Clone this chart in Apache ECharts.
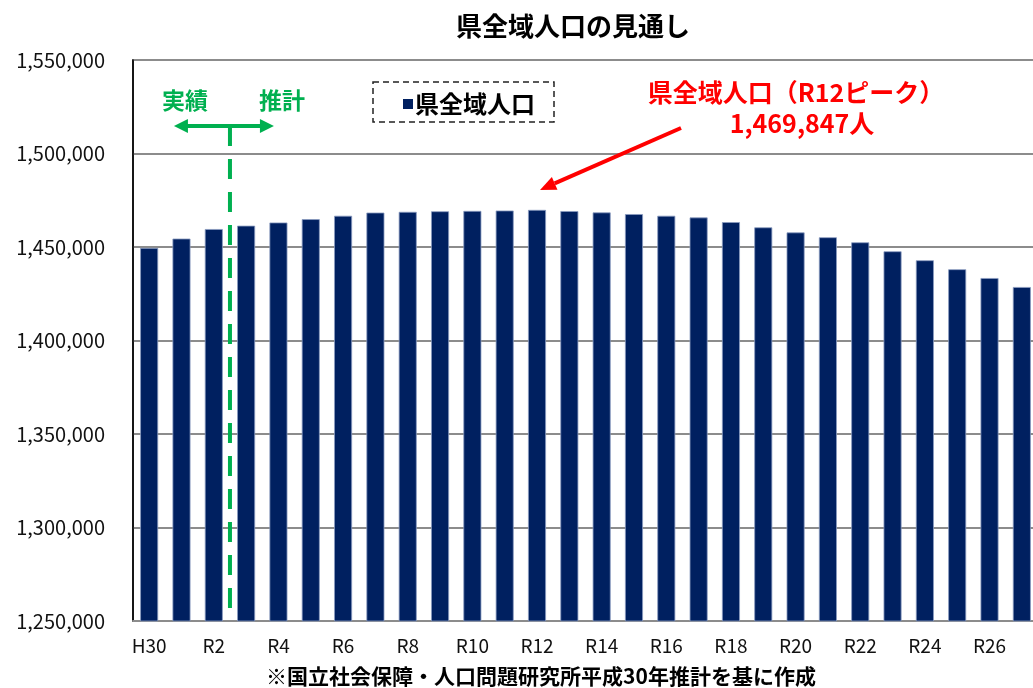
<!DOCTYPE html>
<html>
<head>
<meta charset="utf-8">
<script src="https://cdn.jsdelivr.net/npm/echarts@6/dist/echarts.min.js"></script>
<style>
  html, body { margin: 0; padding: 0; background: #fff; }
  #chart { width: 1033px; height: 688px; }
</style>
</head>
<body>
<div id="chart"></div>
<script>
// 年次（H30 〜 R27）
const categories = ['H30', 'R1', 'R2', 'R3', 'R4', 'R5', 'R6', 'R7', 'R8', 'R9', 'R10',
  'R11', 'R12', 'R13', 'R14', 'R15', 'R16', 'R17', 'R18', 'R19', 'R20',
  'R21', 'R22', 'R23', 'R24', 'R25', 'R26', 'R27'];
// 県全域人口
const population = [1449500, 1454500, 1459600, 1461400, 1463100, 1464900, 1466700, 1468400,
  1468800, 1469100, 1469300, 1469500, 1469847, 1469200, 1468500, 1467600, 1466700,
  1465800, 1463300, 1460500, 1457800, 1455200, 1452500, 1447700, 1442900, 1438100,
  1433400, 1428600];
// 縦軸の範囲
const yMin = 1250000;
const yMax = 1550000;
const yStep = 50000;

const seriesName = '県全域人口';
const lastActual = 'R2';     // 実績の最終年
const firstForecast = 'R3';  // 推計の開始年
const peakYear = 'R12';
const peakLines = ['県全域人口（R12ピーク）', '1,469,847人'];
const titleText = '県全域人口の見通し';
const noteText = '※国立社会保障・人口問題研究所平成30年推計を基に作成';

const FONT = '"Noto Sans CJK JP", "Noto Sans", sans-serif';
const GREEN = '#00B050';
const RED = '#FF0000';

const chart = echarts.init(document.getElementById('chart'));

chart.setOption({
  animation: false,
  textStyle: { fontFamily: FONT },
  title: [
    {
      text: titleText, left: 568, top: 8, textAlign: 'center',
      textStyle: { fontSize: 26, fontWeight: 'bold', color: '#000', fontFamily: FONT }
    },
    {
      text: noteText, left: 536, top: 661, textAlign: 'center',
      textStyle: { fontSize: 21, fontWeight: 'bold', color: '#000', fontFamily: FONT }
    }
  ],
  legend: {
    data: [seriesName],
    left: 398, top: 87,
    icon: 'rect', itemWidth: 10, itemHeight: 10,
    itemStyle: { borderWidth: 0 },
    textStyle: { fontSize: 24, fontWeight: 'bold', color: '#000', fontFamily: FONT, padding: [0, 0, 0, -3] }
  },
  grid: {
    left: 133, top: 60, width: 905, height: 561,
    show: true, borderColor: '#222', borderWidth: 1.5,
    outerBoundsMode: 'none'
  },
  xAxis: {
    type: 'category',
    data: categories,
    axisTick: { show: false },
    axisLine: { lineStyle: { color: '#8c8c8c', width: 2 } },
    axisLabel: {
      interval: 1, margin: 15,
      fontSize: 19, color: '#111', fontFamily: FONT
    }
  },
  yAxis: {
    type: 'value',
    min: yMin, max: yMax, interval: yStep,
    axisLine: { show: true, lineStyle: { color: '#000', width: 1.5 } },
    axisTick: { show: false },
    splitLine: { lineStyle: { color: '#8c8c8c', width: 2 } },
    axisLabel: {
      margin: 28, fontSize: 20, color: '#111', fontFamily: FONT,
      formatter: v => v.toLocaleString('en-US')
    }
  },
  series: [{
    name: seriesName,
    type: 'bar',
    data: population,
    barWidth: 18,
    itemStyle: { color: '#002060', borderColor: '#8a9cc0', borderWidth: 0.8 }
  }]
});

// 注記類は軸の座標から位置を求めて描く
const pA = chart.convertToPixel({ seriesIndex: 0 }, [lastActual, yMin]);
const pB = chart.convertToPixel({ seriesIndex: 0 }, [firstForecast, yMin]);
const divX = (pA[0] + pB[0]) / 2;
const baseY = pA[1];
const arrowY = 126;

const peakPx = chart.convertToPixel({ seriesIndex: 0 }, [peakYear, population[categories.indexOf(peakYear)]]);
const head = [peakPx[0] + 3, peakPx[1] - 20];
const tail = [681, 128];
const ang = Math.atan2(head[1] - tail[1], head[0] - tail[0]);
const hl = 16, hw = 7;
const baseX = head[0] - hl * Math.cos(ang), baseYY = head[1] - hl * Math.sin(ang);
const redHead = [
  head,
  [baseX + hw * Math.sin(ang), baseYY - hw * Math.cos(ang)],
  [baseX - hw * Math.sin(ang), baseYY + hw * Math.cos(ang)]
];

chart.setOption({
  graphic: [
    // 凡例の点線枠
    {
      type: 'rect', shape: { x: 373, y: 82, width: 181, height: 40 },
      style: { fill: 'none', stroke: '#222', lineWidth: 1.5, lineDash: [6, 4] }
    },
    // 実績／推計の区切り線
    {
      type: 'line', shape: { x1: divX, y1: arrowY, x2: divX, y2: baseY - 2 },
      style: { stroke: GREEN, lineWidth: 4, lineDash: [20, 13] }
    },
    {
      type: 'line', shape: { x1: divX - 46, y1: arrowY, x2: divX + 34, y2: arrowY },
      style: { stroke: GREEN, lineWidth: 4 }
    },
    {
      type: 'polygon', shape: { points: [[divX - 56, arrowY], [divX - 42, arrowY - 7], [divX - 42, arrowY + 7]] },
      style: { fill: GREEN }
    },
    {
      type: 'polygon', shape: { points: [[divX + 44, arrowY], [divX + 30, arrowY - 7], [divX + 30, arrowY + 7]] },
      style: { fill: GREEN }
    },
    {
      type: 'text', x: divX - 45, y: 100,
      style: { text: '実績', fill: GREEN, font: 'bold 23px ' + FONT, textAlign: 'center', textVerticalAlign: 'middle' }
    },
    {
      type: 'text', x: divX + 52, y: 100,
      style: { text: '推計', fill: GREEN, font: 'bold 23px ' + FONT, textAlign: 'center', textVerticalAlign: 'middle' }
    },
    // ピークの注記
    {
      type: 'text', x: 796, y: 92,
      style: { text: peakLines[0], fill: RED, font: 'bold 25px ' + FONT, textAlign: 'center', textVerticalAlign: 'middle' }
    },
    {
      type: 'text', x: 802, y: 123,
      style: { text: peakLines[1], fill: RED, font: 'bold 25px ' + FONT, textAlign: 'center', textVerticalAlign: 'middle' }
    },
    {
      type: 'line', shape: { x1: tail[0], y1: tail[1], x2: baseX, y2: baseYY },
      style: { stroke: RED, lineWidth: 4 }
    },
    {
      type: 'polygon', shape: { points: redHead },
      style: { fill: RED }
    }
  ]
});
</script>
</body>
</html>
